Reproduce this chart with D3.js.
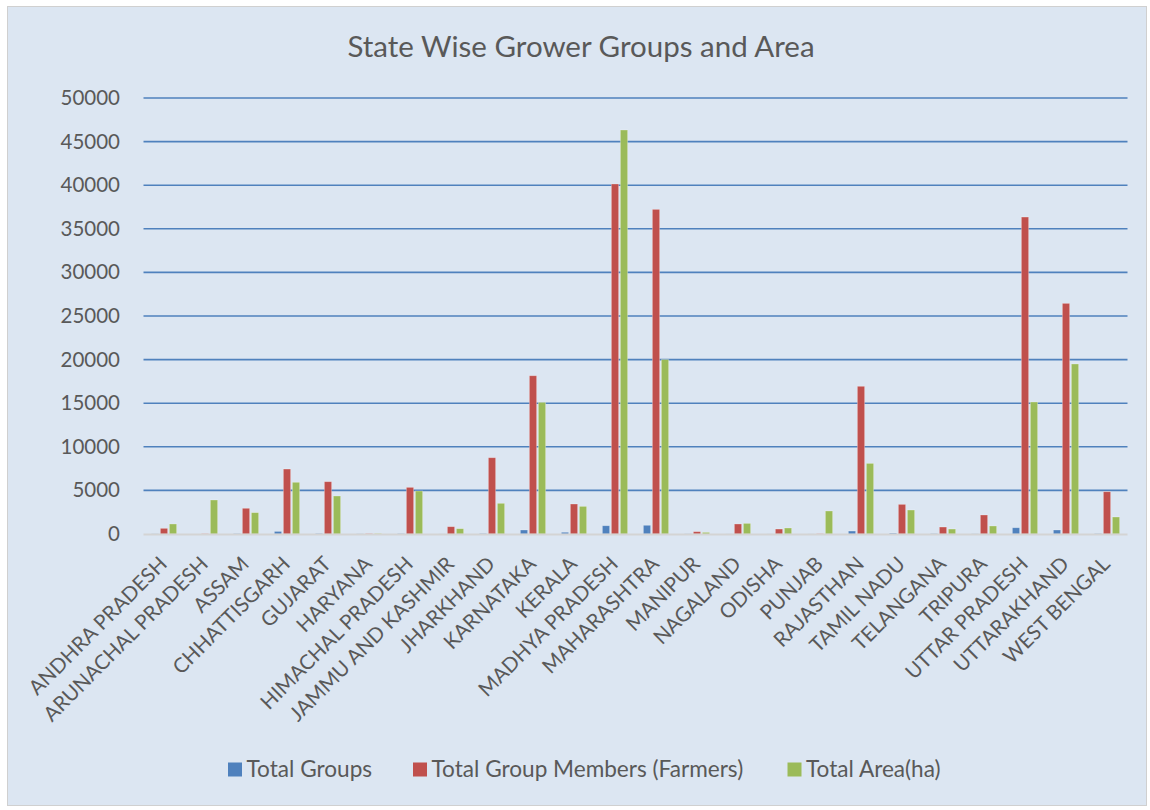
<!DOCTYPE html>
<html>
<head>
<meta charset="utf-8">
<script src="https://cdn.jsdelivr.net/npm/d3@7/dist/d3.min.js"></script>
<style>
  html, body { margin: 0; padding: 0; background: #ffffff; }
  svg { display: block; }
  text { font-family: Lato, "Open Sans", sans-serif; fill: #595959; }
</style>
</head>
<body>
<svg id="chart" width="1150" height="810"></svg>
<script>
// State-wise grower groups, members and certified area
const states = [
  "ANDHRA PRADESH", "ARUNACHAL PRADESH", "ASSAM", "CHHATTISGARH", "GUJARAT",
  "HARYANA", "HIMACHAL PRADESH", "JAMMU AND KASHMIR", "JHARKHAND", "KARNATAKA",
  "KERALA", "MADHYA PRADESH", "MAHARASHTRA", "MANIPUR", "NAGALAND", "ODISHA",
  "PUNJAB", "RAJASTHAN", "TAMIL NADU", "TELANGANA", "TRIPURA", "UTTAR PRADESH",
  "UTTARAKHAND", "WEST BENGAL"
];
const totalGroups = [
  20, 0, 40, 300, 60, 20, 40, 10, 60, 460, 200, 950, 1000, 20, 10, 10,
  10, 340, 100, 40, 20, 720, 460, 40
];
const totalMembers = [
  650, 30, 2950, 7450, 6000, 40, 5350, 840, 8750, 18150, 3440, 40140, 37230,
  270, 1150, 570, 30, 16940, 3400, 800, 2180, 36350, 26450, 4850
];
const totalArea = [
  1150, 3900, 2450, 5930, 4360, 60, 4930, 610, 3520, 15100, 3170, 46330, 20000,
  190, 1220, 690, 2640, 8100, 2750, 570, 920, 15140, 19500, 1950
];
const seriesNames = ["Total Groups", "Total Group Members (Farmers)", "Total Area(ha)"];
const seriesColors = ["#4F81BD", "#C0504D", "#9BBB59"];
const yTicks = [0, 5000, 10000, 15000, 20000, 25000, 30000, 35000, 40000, 45000, 50000];

const seriesValues = [totalGroups, totalMembers, totalArea];
const rows = states.map((s, i) => ({
  state: s,
  values: seriesNames.map((n, k) => ({ key: n, value: seriesValues[k][i] }))
}));

const svg = d3.select("#chart");

// chart area frame
svg.append("rect")
  .attr("x", 7.5).attr("y", 6.5)
  .attr("width", 1139).attr("height", 799)
  .attr("fill", "#DCE6F2")
  .attr("stroke", "#D0D0D0");

const plot = { left: 143.5, right: 1127.5, top: 98, bottom: 534 };

const x0 = d3.scaleBand().domain(states).range([plot.left, plot.right]).padding(0);
const groupWidth = 25.3;
const x1 = d3.scaleBand().domain(seriesNames)
  .range([x0.bandwidth() / 2 - groupWidth / 2, x0.bandwidth() / 2 + groupWidth / 2])
  .paddingInner(0.19);
const y = d3.scaleLinear().domain([0, 50000]).range([plot.bottom, plot.top]);
const color = d3.scaleOrdinal().domain(seriesNames).range(seriesColors);

// title
svg.append("text")
  .attr("x", 581).attr("y", 57)
  .attr("text-anchor", "middle")
  .style("font-size", "29.5px")
  .text("State Wise Grower Groups and Area");

// horizontal gridlines and value labels
const yAxis = d3.axisLeft(y).tickValues(yTicks).tickSize(0).tickPadding(0)
  .tickFormat(d3.format("d"));
const yG = svg.append("g").attr("transform", `translate(120,0)`).call(yAxis);
yG.select(".domain").remove();
yG.selectAll("text")
  .attr("x", 0)
  .style("font-size", "20.5px")
  .style("font-family", "Lato, 'Open Sans', sans-serif")
  .attr("fill", "#595959");

svg.append("g").selectAll("line")
  .data(yTicks.filter(t => t > 0))
  .join("line")
  .attr("x1", plot.left).attr("x2", plot.right)
  .attr("y1", d => y(d)).attr("y2", d => y(d))
  .attr("stroke", "#4F81BD")
  .attr("stroke-width", 1.6);

// bars
const groups = svg.append("g").selectAll("g")
  .data(rows)
  .join("g")
  .attr("transform", d => `translate(${x0(d.state)},0)`);

groups.selectAll("rect")
  .data(d => d.values)
  .join("rect")
  .attr("x", d => x1(d.key))
  .attr("width", x1.bandwidth())
  .attr("y", d => y(d.value))
  .attr("height", d => y(0) - y(d.value))
  .attr("fill", d => color(d.key))
  .attr("stroke", "rgba(255,255,255,0.35)")
  .attr("stroke-width", 0.8);

// category axis line
svg.append("line")
  .attr("x1", plot.left).attr("x2", plot.right)
  .attr("y1", y(0) + 0.5).attr("y2", y(0) + 0.5)
  .attr("stroke", "#D4D4D4")
  .attr("stroke-width", 2);

// rotated category labels
const xAxis = d3.axisBottom(x0).tickSize(0).tickPadding(0);
const xG = svg.append("g").attr("transform", `translate(0,${plot.bottom})`).call(xAxis);
xG.select(".domain").remove();
xG.selectAll("text")
  .attr("text-anchor", "end")
  .attr("transform", "translate(-6,21) rotate(-45)")
  .attr("y", 0).attr("dy", "0.71em")
  .style("font-size", "20.5px")
  .style("font-family", "Lato, 'Open Sans', sans-serif")
  .attr("fill", "#595959");

// legend
const legendX = [228, 413, 787.5];
const legend = svg.append("g").selectAll("g")
  .data(seriesNames)
  .join("g")
  .attr("transform", (d, i) => `translate(${legendX[i]},762.5)`);
legend.append("rect")
  .attr("width", 14).attr("height", 14)
  .attr("fill", d => color(d));
legend.append("text")
  .attr("x", 18.5).attr("y", 14.5)
  .style("font-size", "22.6px")
  .text(d => d);
</script>
</body>
</html>
